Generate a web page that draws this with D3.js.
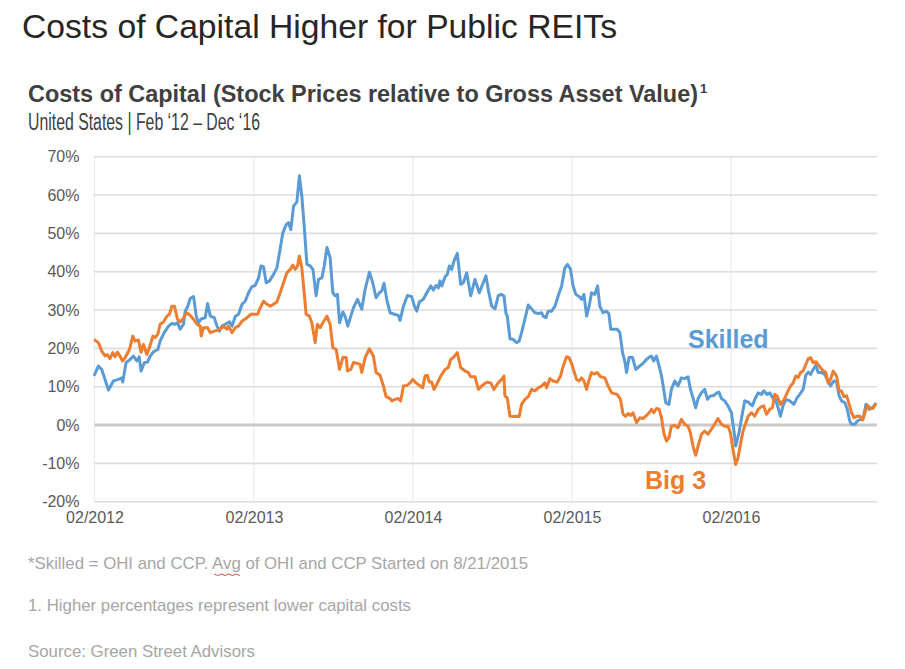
<!DOCTYPE html>
<html>
<head>
<meta charset="utf-8">
<script src="https://cdn.jsdelivr.net/npm/d3@7"></script>
<style>
  html, body { margin: 0; padding: 0; background: #ffffff; }
  svg { display: block; font-family: "Liberation Sans", Arial, sans-serif; }
</style>
</head>
<body>
<svg id="chart" width="905" height="669"></svg>
<script>
// ---------- data (decimal year, percent) ----------
const yTicks = [-20, -10, 0, 10, 20, 30, 40, 50, 60, 70];
const xTickDates = ["2012-02-01", "2013-02-01", "2014-02-01", "2015-02-01", "2016-02-01"];
const xTickLabels = ["02/2012", "02/2013", "02/2014", "02/2015", "02/2016"];
const seriesNames = ["Skilled", "Big 3"];

const skilled = [
[2012.082,12.8],[2012.109,15.4],[2012.130,14.5],[2012.151,11.9],[2012.172,9.1],[2012.203,11.5],[2012.235,11.9],[2012.256,12.3],[2012.262,11.2],[2012.283,16.3],
[2012.308,17.1],[2012.329,18.0],[2012.350,16.7],[2012.365,17.8],[2012.377,14.1],[2012.398,16.3],[2012.417,16.4],[2012.434,18.0],[2012.454,19.1],[2012.482,19.7],
[2012.496,21.9],[2012.522,24.1],[2012.549,25.8],[2012.570,26.5],[2012.591,26.3],[2012.605,26.7],[2012.622,25.0],[2012.643,26.3],[2012.653,29.7],[2012.670,31.0],
[2012.685,33.0],[2012.706,33.5],[2012.723,28.4],[2012.737,26.7],[2012.754,27.7],[2012.779,28.0],[2012.794,31.7],[2012.811,28.4],[2012.836,28.0],[2012.853,25.8],
[2012.869,24.5],[2012.884,25.8],[2012.905,26.3],[2012.932,26.9],[2012.947,25.8],[2012.968,28.4],[2012.988,28.9],[2013.010,31.5],[2013.030,32.3],[2013.051,34.5],
[2013.072,36.1],[2013.093,36.4],[2013.114,38.4],[2013.129,41.5],[2013.145,41.3],[2013.162,37.1],[2013.183,37.6],[2013.208,39.3],[2013.229,41.0],[2013.246,45.0],
[2013.267,50.2],[2013.288,52.3],[2013.302,52.8],[2013.317,51.0],[2013.334,57.1],[2013.355,58.2],[2013.371,65.0],[2013.386,59.7],[2013.401,51.9],[2013.418,41.9],
[2013.439,41.5],[2013.456,40.6],[2013.476,33.7],[2013.491,38.0],[2013.512,38.4],[2013.527,41.5],[2013.544,46.3],[2013.564,43.7],[2013.581,34.5],[2013.596,33.7],
[2013.610,34.1],[2013.623,26.7],[2013.644,29.5],[2013.658,28.4],[2013.675,25.8],[2013.694,28.4],[2013.711,30.6],[2013.736,32.8],[2013.763,30.2],[2013.784,35.4],
[2013.811,39.9],[2013.832,37.1],[2013.853,33.2],[2013.874,34.5],[2013.889,35.0],[2013.903,37.0],[2013.920,32.8],[2013.941,29.3],[2013.968,28.9],[2013.993,28.6],
[2014.004,27.3],[2014.025,31.0],[2014.050,33.8],[2014.077,33.5],[2014.094,31.0],[2014.109,29.7],[2014.125,32.1],[2014.150,32.8],[2014.172,34.5],[2014.197,36.3],
[2014.213,35.2],[2014.230,36.4],[2014.244,35.8],[2014.255,37.6],[2014.266,36.3],[2014.287,38.7],[2014.301,39.3],[2014.314,41.5],[2014.329,40.6],[2014.343,42.8],
[2014.364,44.8],[2014.385,36.7],[2014.402,37.1],[2014.423,39.7],[2014.448,33.7],[2014.475,38.0],[2014.502,34.5],[2014.527,37.1],[2014.544,38.9],[2014.559,35.2],
[2014.580,31.0],[2014.601,30.3],[2014.621,33.7],[2014.638,34.1],[2014.657,33.7],[2014.670,29.1],[2014.678,28.4],[2014.695,22.5],[2014.716,22.3],[2014.737,21.5],
[2014.753,21.9],[2014.768,24.1],[2014.789,27.6],[2014.810,31.3],[2014.831,30.3],[2014.852,29.3],[2014.873,29.1],[2014.894,29.3],[2014.904,28.4],[2014.921,28.0],
[2014.935,29.7],[2014.957,29.7],[2014.978,31.0],[2014.998,33.7],[2015.020,36.3],[2015.040,41.0],[2015.057,41.9],[2015.076,40.6],[2015.092,36.3],[2015.109,34.1],
[2015.130,33.5],[2015.145,32.8],[2015.160,34.1],[2015.177,28.4],[2015.193,31.0],[2015.208,34.5],[2015.229,34.1],[2015.246,36.3],[2015.260,31.0],[2015.281,29.3],
[2015.302,29.7],[2015.317,29.0],[2015.329,25.0],[2015.369,25.0],[2015.386,24.1],[2015.403,18.9],[2015.417,16.7],[2015.428,13.7],[2015.444,17.6],[2015.466,17.6],
[2015.486,14.5],[2015.511,15.4],[2015.532,16.1],[2015.553,17.1],[2015.574,17.8],[2015.585,18.0],[2015.599,16.7],[2015.616,18.0],[2015.633,15.4],[2015.648,12.8],
[2015.662,9.3],[2015.675,5.8],[2015.695,5.4],[2015.710,9.3],[2015.731,11.5],[2015.752,10.2],[2015.773,12.3],[2015.794,12.1],[2015.815,12.6],[2015.830,9.3],
[2015.846,7.1],[2015.863,4.5],[2015.878,6.9],[2015.899,8.4],[2015.920,9.3],[2015.937,6.7],[2015.955,7.6],[2015.976,7.7],[2015.997,8.4],[2016.009,8.6],
[2016.025,6.9],[2016.045,6.3],[2016.066,5.0],[2016.087,3.2],[2016.102,-1.1],[2016.114,-5.5],[2016.135,-2.0],[2016.157,3.2],[2016.171,6.3],[2016.192,6.0],
[2016.219,5.0],[2016.234,6.7],[2016.255,8.4],[2016.276,8.0],[2016.290,8.9],[2016.311,8.0],[2016.328,8.4],[2016.345,7.1],[2016.364,6.7],[2016.380,4.5],
[2016.395,2.3],[2016.411,5.0],[2016.428,6.7],[2016.454,6.3],[2016.479,5.4],[2016.499,7.1],[2016.516,8.0],[2016.537,9.3],[2016.554,13.0],[2016.569,13.8],
[2016.584,13.2],[2016.600,14.5],[2016.617,15.6],[2016.631,13.7],[2016.653,13.7],[2016.673,13.2],[2016.688,11.9],[2016.709,10.2],[2016.730,11.5],[2016.747,11.2],
[2016.763,7.6],[2016.778,6.3],[2016.799,5.8],[2016.814,4.1],[2016.830,1.0],[2016.841,0.2],[2016.862,0.2],[2016.876,1.0],[2016.898,1.5],[2016.914,1.7],
[2016.931,5.4],[2016.952,4.1],[2016.973,4.5],[2016.994,5.8]
];

const big3 = [
[2012.082,22.3],[2012.109,21.5],[2012.130,19.3],[2012.151,18.0],[2012.165,18.4],[2012.182,17.3],[2012.199,18.9],[2012.214,17.8],[2012.228,19.0],[2012.245,18.0],
[2012.260,16.7],[2012.277,17.6],[2012.304,19.7],[2012.325,23.2],[2012.339,21.9],[2012.360,22.2],[2012.377,19.0],[2012.392,21.0],[2012.413,18.4],[2012.434,20.8],
[2012.451,23.2],[2012.465,22.8],[2012.482,23.7],[2012.496,26.3],[2012.517,26.9],[2012.539,28.4],[2012.555,28.9],[2012.570,31.0],[2012.586,31.0],[2012.605,27.6],
[2012.622,26.9],[2012.637,27.6],[2012.664,29.3],[2012.685,28.6],[2012.706,27.6],[2012.727,26.3],[2012.748,25.8],[2012.754,23.2],[2012.768,25.4],[2012.794,25.4],
[2012.811,24.1],[2012.836,24.5],[2012.863,24.8],[2012.884,25.4],[2012.894,25.8],[2012.915,25.0],[2012.925,25.8],[2012.947,24.1],[2012.968,25.4],[2012.988,25.8],
[2013.010,27.1],[2013.041,28.0],[2013.066,28.9],[2013.082,28.9],[2013.108,28.9],[2013.125,30.6],[2013.145,32.3],[2013.167,31.5],[2013.187,31.0],[2013.208,31.5],
[2013.229,32.1],[2013.250,34.5],[2013.271,37.1],[2013.292,39.7],[2013.313,40.6],[2013.330,41.7],[2013.344,40.6],[2013.359,41.5],[2013.371,44.1],[2013.386,41.0],
[2013.401,34.5],[2013.413,28.9],[2013.434,28.4],[2013.449,26.7],[2013.470,21.5],[2013.484,26.3],[2013.501,25.4],[2013.518,26.7],[2013.544,28.4],[2013.564,26.3],
[2013.581,20.2],[2013.602,19.7],[2013.623,14.5],[2013.644,17.6],[2013.665,17.6],[2013.673,14.1],[2013.694,14.5],[2013.711,16.3],[2013.732,16.1],[2013.753,15.8],
[2013.763,13.7],[2013.784,17.6],[2013.811,19.9],[2013.836,18.0],[2013.853,13.7],[2013.878,13.0],[2013.899,10.2],[2013.916,7.4],[2013.941,6.9],[2013.952,6.3],
[2013.972,6.7],[2013.993,6.9],[2014.008,6.3],[2014.025,10.2],[2014.046,10.3],[2014.067,11.0],[2014.084,11.9],[2014.104,11.0],[2014.130,10.2],[2014.146,9.7],
[2014.161,12.8],[2014.175,13.0],[2014.188,11.2],[2014.203,11.2],[2014.217,9.3],[2014.238,10.9],[2014.260,12.8],[2014.287,14.5],[2014.307,15.0],[2014.322,17.1],
[2014.343,17.8],[2014.364,18.9],[2014.385,15.0],[2014.412,14.1],[2014.433,13.7],[2014.448,12.6],[2014.475,12.6],[2014.496,9.3],[2014.517,10.2],[2014.549,11.2],
[2014.574,11.0],[2014.594,9.3],[2014.621,11.0],[2014.643,11.9],[2014.657,12.8],[2014.663,7.6],[2014.678,7.1],[2014.695,2.3],[2014.716,2.2],[2014.737,2.3],
[2014.753,2.2],[2014.768,5.4],[2014.789,6.7],[2014.810,7.4],[2014.831,9.3],[2014.852,8.9],[2014.873,9.7],[2014.894,10.2],[2014.915,11.0],[2014.925,9.7],
[2014.946,12.1],[2014.967,11.5],[2014.992,11.2],[2015.013,12.8],[2015.030,15.4],[2015.051,17.8],[2015.067,17.6],[2015.082,16.1],[2015.097,14.1],[2015.114,11.9],
[2015.130,11.5],[2015.145,12.3],[2015.160,11.5],[2015.177,9.3],[2015.193,11.9],[2015.208,13.7],[2015.222,13.3],[2015.243,13.7],[2015.265,12.6],[2015.292,12.3],
[2015.312,10.2],[2015.334,8.4],[2015.369,8.0],[2015.390,6.7],[2015.406,2.8],[2015.423,2.3],[2015.438,3.0],[2015.453,2.5],[2015.469,3.2],[2015.491,0.6],
[2015.511,1.9],[2015.532,1.7],[2015.549,2.3],[2015.570,3.2],[2015.585,4.1],[2015.599,3.2],[2015.616,4.3],[2015.633,4.1],[2015.648,1.9],[2015.662,-2.0],
[2015.679,-4.2],[2015.695,-3.3],[2015.710,-0.3],[2015.731,-0.1],[2015.752,-0.7],[2015.773,1.5],[2015.794,0.2],[2015.815,-0.3],[2015.830,-2.0],[2015.846,-5.5],
[2015.863,-7.9],[2015.878,-5.5],[2015.899,-2.4],[2015.920,-1.6],[2015.940,-2.4],[2015.962,-1.1],[2015.982,0.2],[2016.003,1.7],[2016.025,0.2],[2016.045,-0.3],
[2016.066,-0.3],[2016.081,-2.0],[2016.097,-6.3],[2016.114,-10.3],[2016.129,-8.5],[2016.146,-4.6],[2016.160,-1.6],[2016.171,-0.3],[2016.192,2.3],[2016.213,3.2],
[2016.234,2.3],[2016.255,4.1],[2016.276,4.8],[2016.290,5.0],[2016.307,2.8],[2016.328,4.1],[2016.345,4.5],[2016.359,8.0],[2016.374,7.6],[2016.395,5.4],
[2016.416,6.5],[2016.437,8.4],[2016.458,10.2],[2016.474,10.9],[2016.491,12.8],[2016.506,12.4],[2016.521,13.7],[2016.537,14.1],[2016.554,15.8],[2016.569,17.3],
[2016.584,17.6],[2016.600,16.3],[2016.617,16.5],[2016.638,15.4],[2016.659,14.3],[2016.680,13.7],[2016.694,10.9],[2016.709,11.9],[2016.726,14.1],[2016.747,12.8],
[2016.763,8.9],[2016.778,8.9],[2016.793,7.4],[2016.810,7.6],[2016.826,5.4],[2016.841,3.2],[2016.856,1.9],[2016.876,2.3],[2016.893,2.3],[2016.910,1.3],
[2016.925,3.2],[2016.940,5.2],[2016.956,4.5],[2016.975,4.3],[2016.994,5.6]
];

const titleText = "Costs of Capital Higher for Public REITs";
const subtitleText = "Costs of Capital (Stock Prices relative to Gross Asset Value)";
const subtitle2Text = "United States | Feb \u201812 \u2013 Dec \u201816";
const footnotes = [
  "*Skilled = OHI and CCP. Avg of OHI and CCP Started on 8/21/2015",
  "1. Higher percentages represent lower capital costs",
  "Source: Green Street Advisors"
];

// ---------- helpers ----------
function toDate(y) {
  const yr = Math.floor(y);
  const s = new Date(yr, 0, 1), e = new Date(yr + 1, 0, 1);
  return new Date(+s + (y - yr) * (e - s));
}
const parse = d3.timeParse("%Y-%m-%d");

const svg = d3.select("#chart");
const blue = "#5b9bd5", orange = "#ed7d31";

const x = d3.scaleTime()
  .domain([new Date(2012, 1, 1), new Date(2016, 11, 31)])
  .range([94.5, 876.5]);
const y = d3.scaleLinear().domain([-20, 70]).range([501.7, 156.7]);

// ---------- titles ----------
svg.append("text").attr("x", 22).attr("y", 38)
  .attr("font-size", 33).attr("fill", "#262626")
  .attr("textLength", 595).attr("lengthAdjust", "spacingAndGlyphs")
  .text(titleText);

svg.append("text").attr("x", 28).attr("y", 102)
  .attr("font-size", 23).attr("font-weight", "bold").attr("fill", "#404040")
  .attr("textLength", 670).attr("lengthAdjust", "spacingAndGlyphs")
  .text(subtitleText);
svg.append("text").attr("x", 700).attr("y", 93)
  .attr("font-size", 13).attr("font-weight", "bold").attr("fill", "#404040")
  .text("1");

svg.append("text").attr("x", 28).attr("y", 130)
  .attr("font-size", 23).attr("fill", "#404040")
  .attr("textLength", 232).attr("lengthAdjust", "spacingAndGlyphs")
  .text(subtitle2Text);

// ---------- grid ----------
const g = svg.append("g");
const [x0, x1] = x.range();

g.selectAll("line.vgrid").data(xTickDates)
  .join("line").attr("class", "vgrid")
  .attr("x1", d => x(parse(d))).attr("x2", d => x(parse(d)))
  .attr("y1", y(70)).attr("y2", y(-20))
  .attr("stroke", "#ebebeb").attr("stroke-width", 1.2);

g.selectAll("line.hgrid").data(yTicks.filter(v => v !== 0))
  .join("line").attr("class", "hgrid")
  .attr("x1", x0).attr("x2", x1 + 0.5)
  .attr("y1", d => y(d)).attr("y2", d => y(d))
  .attr("stroke", "#dcdcdc").attr("stroke-width", 1.6);

g.append("line")
  .attr("x1", x0).attr("x2", x1 + 0.5)
  .attr("y1", y(0)).attr("y2", y(0))
  .attr("stroke", "#c9c9c9").attr("stroke-width", 3);

// ---------- axes ----------
const yAxis = d3.axisLeft(y).tickValues(yTicks).tickFormat(d => d + "%").tickSize(0).tickPadding(15);
const ya = svg.append("g").attr("transform", `translate(${x0},0)`).call(yAxis);
ya.select(".domain").remove();
ya.selectAll("text").attr("font-size", 16).attr("fill", "#595959")
  .attr("font-family", "Liberation Sans, Arial, sans-serif");

const xAxis = d3.axisBottom(x).tickValues(xTickDates.map(parse))
  .tickFormat((d, i) => xTickLabels[i]).tickSize(0).tickPadding(10);
const xa = svg.append("g").attr("transform", `translate(0,${y(-20)})`).call(xAxis);
xa.select(".domain").remove();
xa.selectAll("text").attr("font-size", 16).attr("fill", "#595959")
  .attr("font-family", "Liberation Sans, Arial, sans-serif");

// ---------- lines ----------
const line = d3.line().x(d => x(toDate(d[0]))).y(d => y(d[1])).curve(d3.curveLinear);

svg.append("path").datum(skilled)
  .attr("fill", "none").attr("stroke", blue).attr("stroke-width", 3)
  .attr("stroke-linejoin", "round").attr("d", line);
svg.append("path").datum(big3)
  .attr("fill", "none").attr("stroke", orange).attr("stroke-width", 3)
  .attr("stroke-linejoin", "round").attr("d", line);

// ---------- series labels ----------
svg.append("text").attr("x", 688).attr("y", 348)
  .attr("font-size", 25).attr("font-weight", "bold").attr("fill", blue)
  .text(seriesNames[0]);
svg.append("text").attr("x", 645).attr("y", 489)
  .attr("font-size", 25).attr("font-weight", "bold").attr("fill", orange)
  .text(seriesNames[1]);

// ---------- footnotes ----------
const fy = [569, 611, 657];
const fw = [500, 383, 227];
footnotes.forEach((t, i) => {
  svg.append("text").attr("x", 28).attr("y", fy[i])
    .attr("font-size", 17).attr("fill", "#a6a6a6")
    .attr("textLength", fw[i]).attr("lengthAdjust", "spacingAndGlyphs")
    .text(t);
});
// spell-check squiggle under "Avg"
const sq = d3.range(0, 8).map(k => [214 + k * 3.7, 574 + (k % 2 ? 1.6 : 0)]);
svg.append("path").attr("d", d3.line()(sq)).attr("fill", "none")
  .attr("stroke", "#e03030").attr("stroke-width", 0.9);
</script>
</body>
</html>
